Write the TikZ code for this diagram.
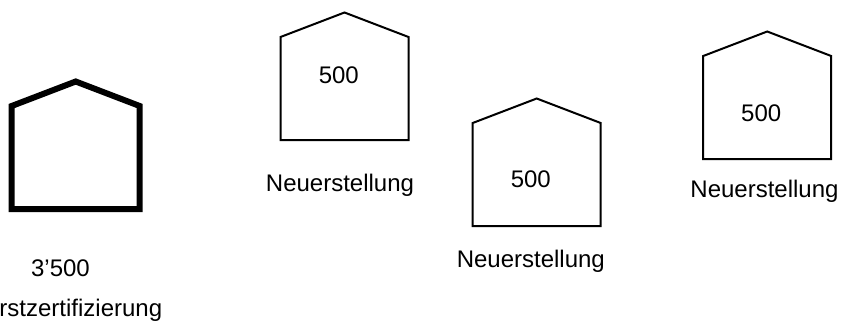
\documentclass[tikz,border=0pt]{standalone}
\usepackage{fontspec}
\setmainfont{Liberation Sans}
\begin{document}
\begin{tikzpicture}[x=1pt,y=1pt,
  housepic/.pic={\draw[pic actions,line join=miter]
      (-64,0) -- (-64,103) -- (0,127.5) -- (64,103) -- (64,0) -- cycle;},
  thinhouse/.style={line width=2pt},
  thickhouse/.style={line width=6pt},
  label/.style={inner sep=0pt,anchor=base,font=\fontsize{24}{29}\selectfont}]
\useasboundingbox (0,0) rectangle (842,322);
% buildings
\pic[thickhouse] at (75.7,113) {housepic};
\pic[thinhouse]  at (344.5,182) {housepic};
\pic[thinhouse]  at (536.7,96) {housepic};
\pic[thinhouse]  at (767.2,163) {housepic};
% amounts
\node[label] (v1) at (60.5,45.3) {3’500};
\node[label] (v2) at (338.8,238.7) {500};
\node[label] (v3) at (530.8,135) {500};
\node[label] (v4) at (761.2,201) {500};
% captions
\node[label] (c1) at (72.8,5.5) {Erstzertifizierung};
\node[label] (c2) at (340,131) {Neuerstellung};
\node[label] (c3) at (530.8,55) {Neuerstellung};
\node[label] (c4) at (764.5,125) {Neuerstellung};
\end{tikzpicture}
\end{document}
